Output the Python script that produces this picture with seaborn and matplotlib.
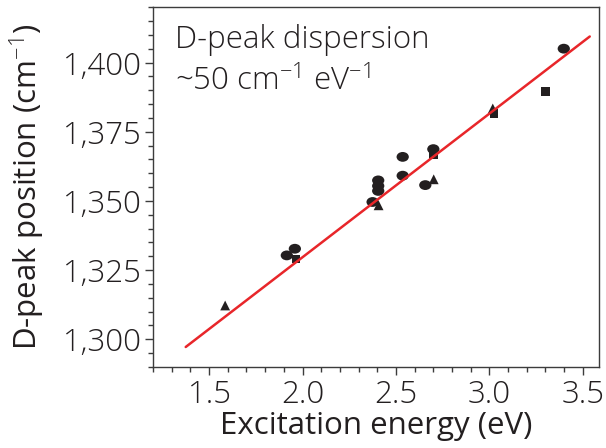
import numpy as np
import pandas as pd
import seaborn as sns
import matplotlib
matplotlib.use("Agg")
import matplotlib.pyplot as plt
from matplotlib.path import Path
from matplotlib.transforms import Affine2D
from matplotlib.ticker import FuncFormatter, MultipleLocator

# ---- data ----
circle_x = [1.916, 1.959, 2.375, 2.405, 2.405, 2.405, 2.536, 2.536, 2.657, 2.700, 3.398]
circle_y = [1330.3, 1332.7, 1349.6, 1353.6, 1355.4, 1357.4, 1365.9, 1359.1, 1355.7, 1368.7, 1405.0]
square_x = [1.964, 2.700, 3.023, 3.300]
square_y = [1328.9, 1366.7, 1381.6, 1389.5]
triangle_x = [1.586, 2.407, 2.702, 3.018]
triangle_y = [1312.2, 1348.4, 1357.8, 1383.4]
fit_x = [1.375, 3.537]
fit_y = [1297.2, 1409.4]

x_ticks = [1.5, 2.0, 2.5, 3.0, 3.5]
y_ticks = [1300, 1325, 1350, 1375, 1400]

sns.set_theme(style="ticks")
FONT = ["Open Sans", "DejaVu Sans"]
plt.rcParams["font.family"] = FONT
plt.rcParams["font.weight"] = "light"
plt.rcParams["mathtext.fontset"] = "custom"
plt.rcParams["mathtext.rm"] = "Open Sans:light"

TXT = "#231f20"
SPINE = "#3c3c3c"
MK = "#231f20"
FS = 22.5

fig = plt.figure(figsize=(6.06, 4.48), dpi=100)
ax = fig.add_axes([0.2525, 0.181, 0.7355, 0.803])

ellipse = Path.unit_circle().transformed(Affine2D().scale(1.25, 1.0))

df_c = pd.DataFrame({"x": circle_x, "y": circle_y})
df_s = pd.DataFrame({"x": square_x, "y": square_y})
df_t = pd.DataFrame({"x": triangle_x, "y": triangle_y})

sns.scatterplot(data=df_c, x="x", y="y", marker=ellipse, s=78, color=MK,
                edgecolor="none", ax=ax, zorder=3)
sns.scatterplot(data=df_s, x="x", y="y", marker="s", s=36, color=MK,
                edgecolor="none", ax=ax, zorder=3)
sns.scatterplot(data=df_t, x="x", y="y", marker="^", s=50, color=MK,
                edgecolor="none", ax=ax, zorder=3)
sns.lineplot(x=fit_x, y=fit_y, color="#e8262a", lw=1.8, ax=ax, zorder=4)

ax.set_xlim(1.2, 3.585)
ax.set_ylim(1290, 1420)
ax.set_xticks(x_ticks)
ax.set_yticks(y_ticks)
ax.xaxis.set_minor_locator(MultipleLocator(0.1))
ax.yaxis.set_minor_locator(MultipleLocator(5))
ax.xaxis.set_major_formatter(FuncFormatter(lambda v, p: f"{v:.1f}"))
ax.yaxis.set_major_formatter(FuncFormatter(lambda v, p: f"{v:,.0f}"))

ax.tick_params(axis="both", which="major", direction="out", length=6, width=1,
               color=SPINE, labelsize=FS, labelcolor=TXT, pad=3)
ax.tick_params(axis="both", which="minor", direction="out", length=3.5, width=1,
               color=SPINE)
for sp in ax.spines.values():
    sp.set_visible(True)
    sp.set_color(SPINE)
    sp.set_linewidth(1.0)

ax.set_xlabel("Excitation energy (eV)", fontsize=FS, color=TXT, labelpad=0)
ax.set_ylabel("D-peak position (cm$^{-1}$)", fontsize=FS, color=TXT, labelpad=11)

ax.text(0.049, 0.886, "D-peak dispersion", transform=ax.transAxes,
        fontsize=FS, color=TXT, va="baseline", ha="left")
ax.text(0.049, 0.769, "~50 cm$^{-1}$ eV$^{-1}$", transform=ax.transAxes,
        fontsize=FS, color=TXT, va="baseline", ha="left")

fig.savefig("out.png", dpi=100)
